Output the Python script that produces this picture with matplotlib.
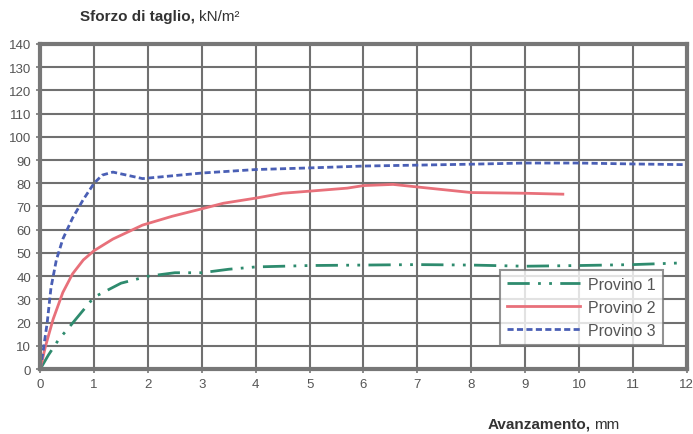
import numpy as np
import matplotlib.pyplot as plt

plt.rcParams['font.family'] = ['Liberation Sans', 'DejaVu Sans']

# Provino 1
x1 = [0, 0.15, 0.35, 0.5, 1.0, 1.5, 2.0, 2.5, 3.0, 3.5, 4.0, 5.0, 6.0, 7.0, 8.0, 9.0, 10.0, 11.0, 12.0]
y1 = [0, 6, 13, 17, 31, 37, 40, 41.5, 41.5, 43, 44, 44.6, 44.8, 45, 44.8, 44.3, 44.6, 45, 45.8]
# Provino 2
x2 = [0, 0.1, 0.24, 0.42, 0.6, 0.8, 1.0, 1.35, 1.9, 2.45, 3.0, 3.4, 4.0, 4.5, 5.0, 5.7, 6.0, 6.55, 7.0, 8.0, 9.0, 9.7]
y2 = [0, 10, 21.5, 33, 41, 47, 51, 56, 62, 65.8, 69, 71.4, 73.6, 75.7, 76.6, 77.9, 79, 79.5, 78.4, 76, 75.7, 75.3]
# Provino 3
x3 = [0, 0.06, 0.13, 0.2, 0.3, 0.42, 0.6, 0.8, 1.0, 1.15, 1.35, 1.9, 3.0, 4.0, 5.0, 6.0, 7.0, 8.0, 9.0, 10.0, 11.0, 12.0]
y3 = [0, 8.7, 20, 35, 47, 56, 65, 73, 80, 83.5, 84.8, 82, 84.4, 85.9, 86.6, 87.4, 87.8, 88.2, 88.7, 88.7, 88.3, 88]

fig = plt.figure(figsize=(6.93, 4.35), dpi=100)
ax = fig.add_axes([0.058, 0.149, 0.933, 0.748])

ax.plot(x1, y1, color='#2e8b6e', lw=2, linestyle=(0, (8, 3, 1, 3, 1, 3)), label='Provino 1')
ax.plot(x2, y2, color='#e8707a', lw=2, label='Provino 2')
ax.plot(x3, y3, color='#4a5fb5', lw=2, linestyle=(0, (2.2, 1.2)), label='Provino 3')

ax.set_xlim(0, 12)
ax.set_ylim(0, 140)
ax.set_xticks(np.arange(0, 13, 1))
ax.set_yticks(np.arange(0, 141, 10))
ax.grid(True, color='#707070', lw=1.5)
ax.set_axisbelow(True)
for s in ax.spines.values():
    s.set_color('#777777')
    s.set_linewidth(3)
ax.tick_params(colors='#777777', labelcolor='#555555', labelsize=9.5, length=3, width=1.2)

leg = ax.legend(loc='lower right', bbox_to_anchor=(0.976, 0.05), fontsize=11.5, frameon=True,
                fancybox=False, handlelength=4.6, borderpad=0.45, labelspacing=0.5,
                handletextpad=0.5)
leg.get_frame().set_edgecolor('#777777')
leg.get_frame().set_linewidth(1.5)
for t in leg.get_texts():
    t.set_color('#555555')

t1 = fig.text(0.115, 0.962, 'Sforzo di taglio,', fontsize=11, fontweight='bold', color='#333333', va='center')
ax.annotate('kN/m²', xy=(1, 0.5), xycoords=t1, xytext=(3, 0), textcoords='offset points',
            fontsize=11, color='#333333', va='center')
t2 = fig.text(0.703, 0.024, 'Avanzamento,', fontsize=11, fontweight='bold', color='#333333', va='center')
ax.annotate('mm', xy=(1, 0.5), xycoords=t2, xytext=(3, 0), textcoords='offset points',
            fontsize=11, color='#333333', va='center')

fig.savefig('out.png', dpi=100)
